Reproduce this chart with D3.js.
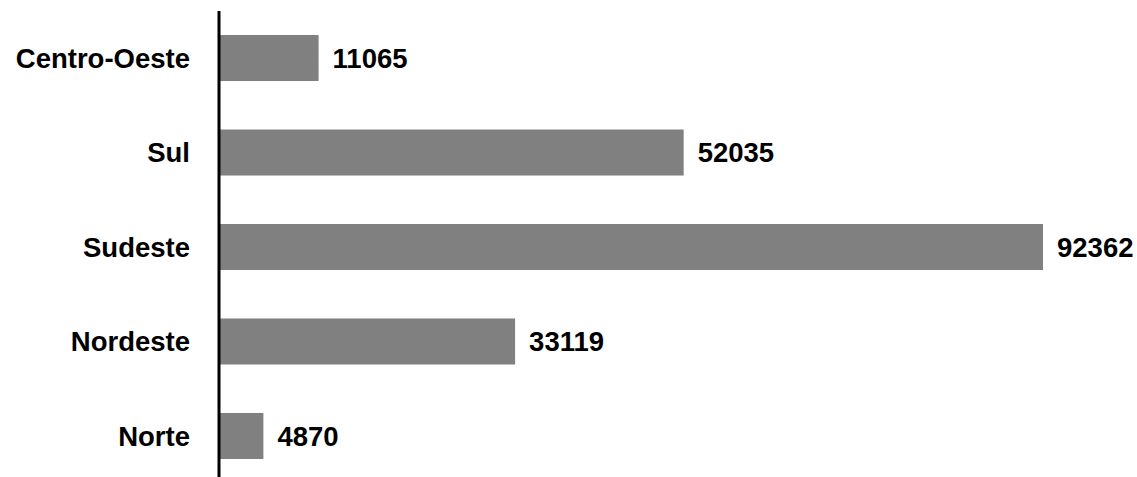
<!DOCTYPE html>
<html>
<head>
 <script src="https://d3js.org/d3.v7.min.js"></script>
 <style>
  body { margin: 0; background: #fff; }
  text { font-family: "Liberation Sans", Arial, sans-serif; font-weight: bold; fill: #000; }
 </style>
</head>
<body>
 <div id="chart"></div>
 <script>
   // dados
   var regioes = ["Centro-Oeste", "Sul", "Sudeste", "Nordeste", "Norte"];
   var valores = [11065, 52035, 92362, 33119, 4870];

   var width = 1137, height = 477;
   var x0 = 220;
   var svg = d3.select("#chart").append("svg")
       .attr("width", width).attr("height", height);

   var x = d3.scaleLinear().domain([0, 92362]).range([x0, 1043]);
   var y = d3.scaleBand().domain(regioes).range([35, 459]).paddingInner(0.513).paddingOuter(0);

   // barras
   svg.selectAll("rect").data(valores).enter().append("rect")
      .attr("x", x(0))
      .attr("y", function(d, i){ return y(regioes[i]); })
      .attr("width", function(d){ return x(d) - x(0); })
      .attr("height", y.bandwidth())
      .style("fill", "#808080");

   // rótulos dos valores
   svg.selectAll(".valor").data(valores).enter().append("text")
      .attr("class", "valor")
      .attr("x", function(d){ return x(d) + 14; })
      .attr("y", function(d, i){ return y(regioes[i]) + y.bandwidth() / 2; })
      .attr("dy", "0.36em")
      .style("font-size", "27.5px")
      .text(function(d){ return d; });

   // eixo
   var yAxis = d3.axisLeft(y).tickSize(0).tickPadding(29);
   var g = svg.append("g").attr("transform", "translate(" + (x0 - 1) + ",0)").call(yAxis);
   g.select(".domain").remove();
   g.selectAll("text").attr("dy", "0.36em").style("font-size", "27.5px").style("font-family", "'Liberation Sans', Arial, sans-serif").style("font-weight", "bold");
   svg.append("line")
      .attr("x1", x0 - 1).attr("x2", x0 - 1)
      .attr("y1", 11).attr("y2", height)
      .style("stroke", "#000").style("stroke-width", 3);
 </script>
</body>
</html>
